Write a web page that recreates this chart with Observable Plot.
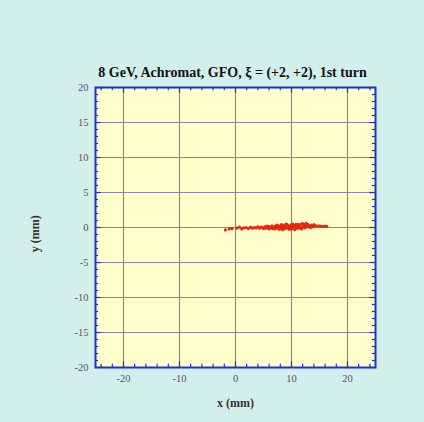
<!DOCTYPE html>
<html>
<head>
<meta charset="utf-8">
<script src="https://cdn.jsdelivr.net/npm/d3@7"></script>
<script src="https://cdn.jsdelivr.net/npm/@observablehq/plot@0.6"></script>
<style>
html,body{margin:0;padding:0;background:#d3efec;}
#chart svg{display:block;}
</style>
</head>
<body>
<div id="chart"></div>
<script>
const title = "8 GeV, Achromat, GFO, \u03BE = (+2, +2), 1st turn";
const xLabel = "x (mm)";
const yLabel = "y (mm)";
const xMajor = [-20, -10, 0, 10, 20];
const xMinor = [-24,-22,-18,-16,-14,-12,-8,-6,-4,-2,2,4,6,8,12,14,16,18,22,24];
const yMajor = [-20,-15,-10,-5,0,5,10,15,20];
const yMinor = [-19,-18,-17,-16,-14,-13,-12,-11,-9,-8,-7,-6,-4,-3,-2,-1,1,2,3,4,6,7,8,9,11,12,13,14,16,17,18,19];

// particle positions (mm)
const px = [-1.8,-1.1,-0.6,0.2,0.7,1.1,1.5,1.9,2.3,2.7,3.0,3.4,3.7,4.0,4.3,4.6,4.9,5.2,5.4,5.7,5.9,6.2,6.4,6.6,6.9,7.1,7.3,7.5,7.7,7.9,8.1,8.3,8.5,8.6,8.8,9.0,9.1,9.3,9.5,9.6,9.8,10.0,10.1,10.3,10.5,10.6,10.8,11.0,11.1,11.3,11.5,11.7,11.9,12.1,12.3,12.5,12.8,13.0,13.3,13.6,13.9,14.2,14.6,15.0,15.4,15.9,16.3,
            5.0,5.6,6.0,6.5,7.0,7.4,7.8,8.2,8.7,9.2,9.7,10.2,10.7,11.2,11.6,12.0,12.4,12.9,13.4,14.0,
            6.3,7.2,8.0,8.9,9.4,9.9,10.4,10.9,11.4,12.2,12.7,13.2,8.4,9.0,10.6,11.8,12.6];
const py = [-0.35,-0.2,-0.15,-0.1,0.05,-0.2,-0.05,0.0,-0.15,0.05,-0.1,0.0,-0.05,0.1,-0.1,0.05,-0.05,0.1,-0.1,0.0,0.15,-0.05,0.1,-0.15,0.05,0.2,-0.1,0.1,0.25,-0.05,0.15,-0.2,0.3,0.0,0.2,-0.1,0.35,0.1,-0.2,0.25,0.05,0.4,-0.15,0.2,0.3,-0.05,0.45,0.15,-0.1,0.3,0.2,0.5,0.0,0.35,0.15,0.4,0.1,0.3,0.2,0.35,0.1,0.3,0.2,0.25,0.15,0.2,0.15,
            -0.15,0.2,-0.2,0.25,-0.2,0.35,-0.25,0.4,-0.2,0.45,-0.25,0.5,-0.15,0.45,-0.1,0.55,-0.05,0.45,0.0,0.4,
            0.0,0.05,0.1,0.15,0.05,0.2,0.1,0.25,0.05,0.25,0.15,0.1,-0.3,0.5,-0.3,-0.2,0.6];
const pts = px.map((x, i) => ({x, y: py[i]}));

const serif = "Liberation Serif, Times New Roman, serif";
const tickColor = "#1f2ed6";

const chart = Plot.plot({
  width: 424,
  height: 422,
  marginLeft: 95,
  marginRight: 49,
  marginTop: 87,
  marginBottom: 55,
  style: {background: "#d3efec", fontFamily: serif},
  x: {domain: [-25, 25], axis: null},
  y: {domain: [-20, 20], axis: null},
  marks: [
    Plot.rect([{}], {x1: -25, x2: 25, y1: -20, y2: 20, fill: "#ffffcb"}),
    Plot.ruleX(xMajor, {y1: -20, y2: 20, stroke: "#8683ad", strokeWidth: 1.2}),
    Plot.ruleY(yMajor, {x1: -25, x2: 25, stroke: "#8683ad", strokeWidth: 1.2}),
    // inward ticks, bottom & top
    Plot.ruleX(xMinor, {y1: -20, y2: -19.55, stroke: tickColor, strokeWidth: 1.2}),
    Plot.ruleX(xMinor, {y1: 20, y2: 19.55, stroke: tickColor, strokeWidth: 1.2}),
    Plot.ruleX(xMajor, {y1: -20, y2: -19.2, stroke: tickColor, strokeWidth: 1.2}),
    Plot.ruleX(xMajor, {y1: 20, y2: 19.2, stroke: tickColor, strokeWidth: 1.2}),
    // inward ticks, left & right
    Plot.ruleY(yMinor, {x1: -25, x2: -24.45, stroke: tickColor, strokeWidth: 1.2}),
    Plot.ruleY(yMinor, {x1: 25, x2: 24.45, stroke: tickColor, strokeWidth: 1.2}),
    Plot.ruleY(yMajor, {x1: -25, x2: -24.0, stroke: tickColor, strokeWidth: 1.2}),
    Plot.ruleY(yMajor, {x1: 25, x2: 24.0, stroke: tickColor, strokeWidth: 1.2}),
    Plot.frame({stroke: tickColor, strokeWidth: 2}),
    Plot.dot(pts, {x: "x", y: "y", r: 1.6, fill: "#e8260f", stroke: "none"}),
    Plot.axisX(xMajor, {anchor: "bottom", tickSize: 0, tickPadding: 7, fontSize: 10.5, fill: "#555", label: null, fontFamily: serif, tickFormat: d => String(d)}),
    Plot.axisY(yMajor, {anchor: "left", tickSize: 0, tickPadding: 7, fontSize: 10.5, fill: "#555", label: null, fontFamily: serif, tickFormat: d => String(d)}),
    Plot.text([title], {frameAnchor: "top", dy: -20, dx: -3, fontSize: 14, fontWeight: "bold", fill: "#111", fontFamily: serif}),
    Plot.text([xLabel], {frameAnchor: "bottom", dy: 39, fontSize: 12, fontWeight: "bold", fill: "#333", fontFamily: serif}),
    Plot.text([yLabel], {x: -25, y: -0.9, dx: -60, rotate: -90, fontSize: 12, fontWeight: "bold", fill: "#333", fontFamily: serif})
  ]
});
document.getElementById("chart").appendChild(chart);
</script>
</body>
</html>
